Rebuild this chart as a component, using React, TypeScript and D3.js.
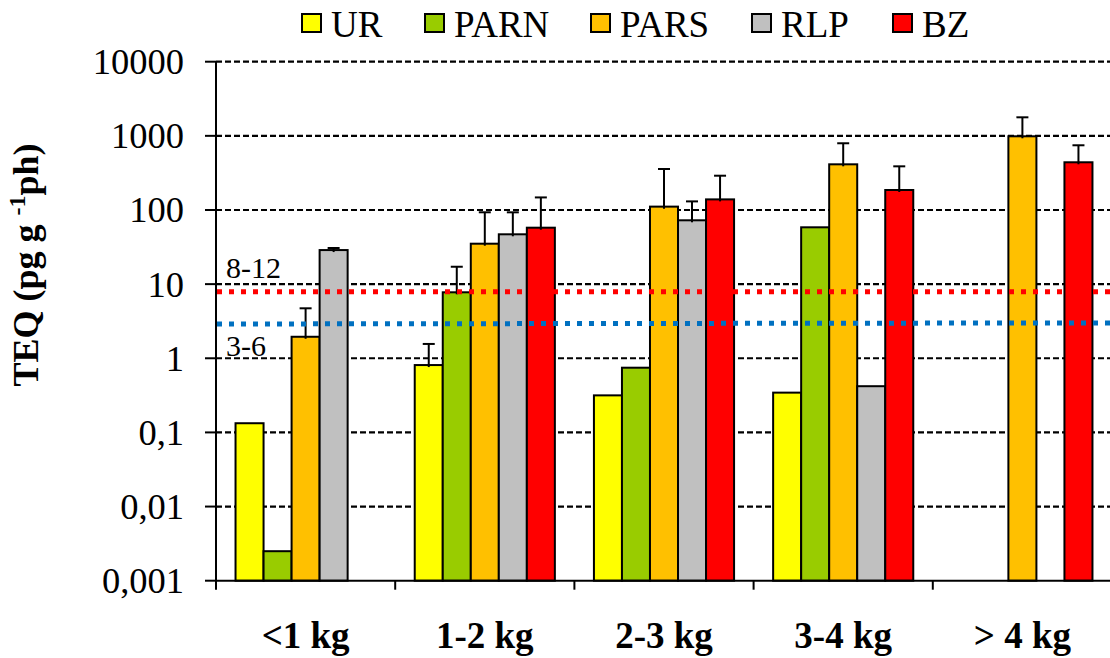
import React from "react";
import * as d3 from "d3";

const categories = ["<1 kg", "1-2 kg", "2-3 kg", "3-4 kg", "> 4 kg"];
const seriesNames = ["UR", "PARN", "PARS", "RLP", "BZ"];
const seriesColors = ["#FFFF00", "#99CC00", "#FFC000", "#C0C0C0", "#FF0000"];

const valuesUR = [0.133, 0.81, 0.316, 0.344, null];
const valuesPARN = [0.0025, 7.76, 0.746, 58.4, null];
const valuesPARS = [1.95, 35.1, 111, 413, 986];
const valuesRLP = [28.8, 47, 72.6, 0.42, null];
const valuesBZ = [null, 57.7, 139, 186, 440];

const errUR = [null, 0.75, null, null, null];
const errPARN = [null, 9.4, null, null, null];
const errPARS = [2.77, 58, 246, 381, 792];
const errRLP = [1.9, 46, 58, null, null];
const errBZ = [null, 90, 151, 202, 306];

const yTicks = [0.001, 0.01, 0.1, 1, 10, 100, 1000, 10000];
const yTickLabels = ["0,001", "0,01", "0,1", "1", "10", "100", "1000", "10000"];

const refRed = { from: 7.9, to: 7.9, label: "8-12" };
const refBlue = { from: 2.9, to: 3.0, label: "3-6" };

const allValues = [valuesUR, valuesPARN, valuesPARS, valuesRLP, valuesBZ];
const allErrors = [errUR, errPARN, errPARS, errRLP, errBZ];

const W = 1110;
const H = 658;
const left = 216;
const right = 216 + 5 * 179.2;
const top = 61.7;
const bottom = 580.7;
const font = "'Liberation Serif', 'Times New Roman', serif";

export default function App() {
  const x0 = d3.scaleBand<string>().domain(categories).range([left, right]).padding(0);
  const bw = x0.bandwidth();
  const x1 = d3.scaleBand<string>().domain(seriesNames).range([bw * 0.109, bw * 0.891]).padding(0);
  const y = d3.scaleLog().domain([0.001, 10000]).range([bottom, top]);

  const bars: any[] = [];
  const errs: any[] = [];
  seriesNames.forEach((s, si) => {
    categories.forEach((c, ci) => {
      const v = allValues[si][ci];
      if (v == null) return;
      const xb = (x0(c) as number) + (x1(s) as number);
      const w = x1.bandwidth();
      bars.push(
        <rect key={`b-${s}-${ci}`} x={xb} y={y(v)} width={w} height={y(0.001) - y(v)}
          fill={seriesColors[si]} stroke="#000" strokeWidth={2} />
      );
      const e = allErrors[si][ci];
      if (e != null) {
        const cx = xb + w / 2;
        const yt = y(v + e);
        errs.push(
          <g key={`e-${s}-${ci}`} stroke="#000" strokeWidth={2}>
            <line x1={cx} x2={cx} y1={y(v) + 2} y2={yt} />
            <line x1={cx - 6} x2={cx + 6} y1={yt} y2={yt} />
          </g>
        );
      }
    });
  });

  const legendX = [302, 425, 591, 752, 893];
  const refLine = (r: any, color: string, key: string) => (
    <line key={key} x1={left + 1} x2={W} y1={y(r.from)} y2={y(r.to)}
      stroke={color} strokeWidth={5} strokeDasharray="5 7" />
  );

  return (
    <svg width={W} height={H} fontFamily={font} style={{ position: "absolute", left: 0, top: 0, background: "#fff" }}>
      {yTicks.slice(1).map((t) => (
        <line key={`g-${t}`} x1={left} x2={W} y1={y(t)} y2={y(t)} stroke="#000" strokeWidth={2.2} strokeDasharray="6 3" />
      ))}
      {yTicks.map((t, i) => (
        <g key={`t-${t}`}>
          <line x1={left - 11} x2={left} y1={y(t)} y2={y(t)} stroke="#000" strokeWidth={2} />
          <text x={184} y={y(t) + 12.5} textAnchor="end" fontSize={36.5} fill="#000">{yTickLabels[i]}</text>
        </g>
      ))}
      {bars}
      {errs}
      {refLine(refRed, "#FF0000", "rr")}
      {refLine(refBlue, "#0070C0", "rb")}
      <text x={226} y={277.7} fontSize={30} fill="#000">{refRed.label}</text>
      <text x={226} y={356} fontSize={30} fill="#000">{refBlue.label}</text>
      <line x1={left} x2={left} y1={top} y2={bottom} stroke="#000" strokeWidth={2} />
      <line x1={left} x2={W} y1={bottom} y2={bottom} stroke="#000" strokeWidth={2} />
      {categories.map((c) => (
        <line key={`xt-${c}`} x1={x0(c) as number} x2={x0(c) as number} y1={bottom} y2={bottom + 9} stroke="#000" strokeWidth={2} />
      ))}
      {categories.map((c) => (
        <text key={`xl-${c}`} x={(x0(c) as number) + bw / 2} y={648} textAnchor="middle" fontSize={37} fontWeight="bold" fill="#000">{c}</text>
      ))}
      <text transform="translate(38,265) rotate(-90)" textAnchor="middle" fontSize={36} fontWeight="bold" fill="#000">
        TEQ (pg g <tspan fontSize={24} dy={-13}>-1</tspan><tspan dy={13}>ph)</tspan>
      </text>
      {seriesNames.map((s, i) => (
        <g key={`l-${s}`}>
          <rect x={legendX[i]} y={14} width={19} height={18} fill={seriesColors[i]} stroke="#000" strokeWidth={2} />
          <text x={legendX[i] + 29} y={36.5} fontSize={37} fill="#000">{s}</text>
        </g>
      ))}
    </svg>
  );
}
